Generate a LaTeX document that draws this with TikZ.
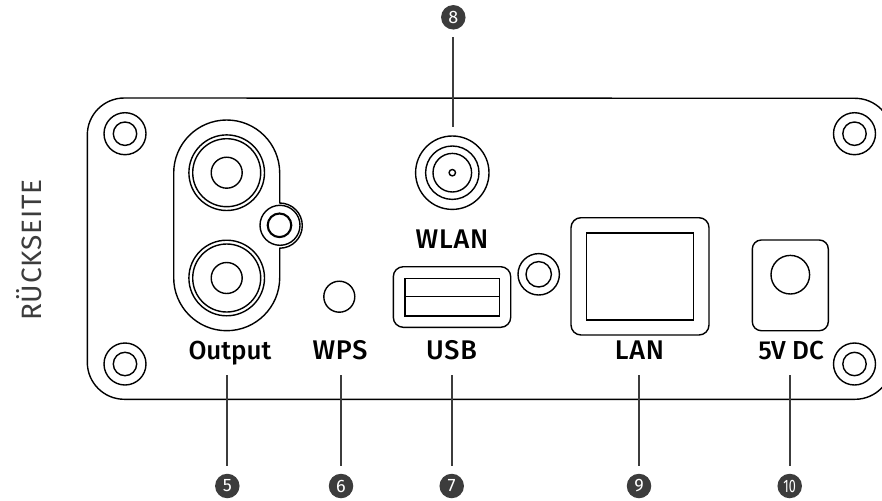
\documentclass[tikz,border=0pt]{standalone}
\usepackage{fontspec}
\usepackage{graphicx}
\setmainfont{Fira Sans}
\newfontfamily\lblfont{Fira Sans Medium}[LetterSpace=3]
\newfontfamily\lowfont{Fira Sans Medium}[LetterSpace=0]
\newfontfamily\sidefont{Fira Sans}[LetterSpace=3]
\definecolor{leadgray}{HTML}{3C3C3C}
\tikzset{
  part/.style={draw=black,line width=1.4pt,fill=none},
  leader/.style={draw=leadgray,line width=2.3pt},
  badge/.style={circle,fill=leadgray,text=white,minimum size=24.5pt,inner sep=0pt,font=\fontsize{18}{18}\selectfont},
  portlabel/.style={inner sep=0pt,anchor=base,text=black,font=\lblfont\fontsize{27}{27}\selectfont},
  lowlabel/.style={portlabel,font=\lowfont\fontsize{26}{26}\selectfont},
  sidelabel/.style={inner sep=0pt,text=leadgray,rotate=90,font=\sidefont\fontsize{28}{28}\selectfont},
}
\begin{document}
\begin{tikzpicture}[x=1pt,y=-1pt]
\useasboundingbox (0,0) rectangle (882,500);
\begin{scope}
\clip (0,0) rectangle (882,500);
% panel
\draw[part] (87.3,135) arc[start angle=180,end angle=270,radius=37] -- (855,98.3)
  arc[start angle=270,end angle=360,radius=37] -- (892,362.3)
  arc[start angle=0,end angle=90,radius=37] -- (124.3,399.3)
  arc[start angle=90,end angle=180,radius=37] -- cycle;
\end{scope}
% corner screws
\foreach \p in {(125,133.7),(854.5,133.7),(125,364),(854.5,364)}{
  \draw[part] \p circle[radius=21] \p circle[radius=11.7];
}
% RCA outline
\draw[part] (173.7,173) arc[start angle=180,end angle=360,radius=53] -- (279.7,203)
  arc[start angle=270,end angle=450,radius=22.6] -- (279.7,277.7)
  arc[start angle=0,end angle=180,radius=53] -- cycle;
\draw[part] (280,225.3) circle[radius=20];
\draw[part,line width=2.1pt] (279.5,225.3) circle[radius=11.8];
\foreach \cy in {172.7,278}{
  \draw[part] (226.7,\cy) circle[radius=37.8] (226.7,\cy) circle[radius=34] (226.7,\cy) circle[radius=15.5];
}
% WPS
\draw[part] (339.3,296.7) circle[radius=15.5];
% WLAN
\draw[part] (452.3,172.7) circle[radius=36.7] (452.3,172.7) circle[radius=26.7] (452.3,172.7) circle[radius=19.3] (452.3,172.7) circle[radius=3.2];
% USB
\draw[part,rounded corners=10pt] (393.3,266.7) rectangle (510.7,327.3);
\draw[part] (405,278.3) rectangle (499.3,316) (405,296.7) -- (499.3,296.7);
% middle screw
\draw[part] (538.7,274.3) circle[radius=20.7] (538.7,274.3) circle[radius=12.7];
% LAN
\draw[part,rounded corners=10pt] (571,217.7) rectangle (709,335);
\draw[part] (586.3,233) rectangle (693.7,320);
% DC
\draw[part,rounded corners=9pt] (752.3,240) rectangle (828.3,330.7);
\draw[part] (790.3,274.7) circle[radius=19.3];
% labels
\node[portlabel] (tw) at (452,248) {WLAN};
\node[lowlabel] (t5) at (230,359) {Output};
\node[portlabel] (t6) at (340,359) {WPS};
\node[portlabel] (t7) at (451.5,359) {USB};
\node[portlabel] (t9) at (639.5,359) {LAN};
\node[lowlabel] (t10) at (791,359) {5V DC};
\node[sidelabel] (side) at (29.5,250) {RÜCKSEITE};
% badges and leaders
\node[badge] (b8) at (453.3,17.3) {8};
\node[badge] (b5) at (227.3,486) {5};
\node[badge] (b6) at (341,486) {6};
\node[badge] (b7) at (451.7,486) {7};
\node[badge] (b9) at (639,486) {9};
\node[badge] (b10) at (789.7,486) {\scalebox{.7}[1]{10}};
\coordinate (l8) at (453.3,126.7);
\coordinate (l5) at (227.3,375);
\coordinate (l6) at (341,375);
\coordinate (l7) at (451.7,375);
\coordinate (l9) at (639,375);
\coordinate (l10) at (789.7,375);
\draw[leader,shorten >=7pt] (l8) -- (b8);
\foreach \n in {5,6,7,9,10}{
  \draw[leader,shorten >=8pt] (l\n) -- (b\n);
}
\end{tikzpicture}
\end{document}
